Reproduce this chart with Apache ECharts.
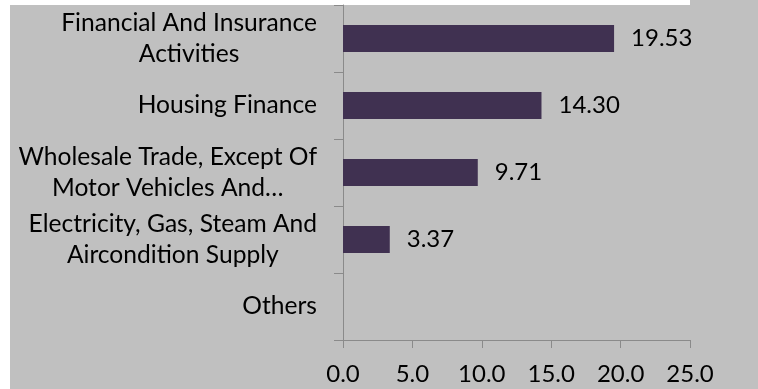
<!DOCTYPE html>
<html>
<head>
<meta charset="utf-8">
<script src="https://cdn.jsdelivr.net/npm/echarts@6/dist/echarts.min.js"></script>
<style>
  html, body { margin: 0; padding: 0; background: #ffffff; }
  #chart { width: 758px; height: 389px; }
</style>
</head>
<body>
<div id="chart"></div>
<script>
// Sector categories, top to bottom
const categories = [
  'Financial And Insurance\nActivities',
  'Housing Finance',
  'Wholesale Trade, Except Of\nMotor Vehicles And\u2026',
  'Electricity, Gas, Steam And\nAircondition Supply',
  'Others'
];
// Share per sector (Others has no bar)
const values = [19.53, 14.30, 9.71, 3.37, null];
// Value-axis range
const axisMin = 0;
const axisMax = 25;
const axisStep = 5;

const FONT = 'Lato';
const chart = echarts.init(document.getElementById('chart'));

// Each wrapped line is centred inside the label block; the block sits right-aligned.
const centredLines = s => s.split('\n').map(line => '{c|' + line + '}').join('\n');

chart.setOption({
  animation: false,
  backgroundColor: 'transparent',
  textStyle: { fontFamily: FONT },
  graphic: [
    { type: 'rect', z: -100, silent: true, shape: { x: 10, y: 5, width: 748, height: 384 }, style: { fill: '#c0c0c0' } },
    { type: 'rect', z: -100, silent: true, shape: { x: 690, y: 0, width: 68, height: 5 }, style: { fill: '#c0c0c0' } }
  ],
  grid: { left: 343, top: 5, right: 68, bottom: 49, containLabel: false },
  xAxis: {
    type: 'value',
    min: axisMin,
    max: axisMax,
    interval: axisStep,
    splitLine: { show: false },
    axisLine: { show: true, lineStyle: { color: '#8a8a8a', width: 1 } },
    axisTick: { show: true, length: 8, lineStyle: { color: '#8a8a8a' } },
    axisLabel: {
      margin: 22,
      color: '#000',
      fontFamily: FONT,
      fontSize: 24,
      formatter: v => v.toFixed(1)
    }
  },
  yAxis: {
    type: 'category',
    inverse: true,
    data: categories,
    axisLine: { show: true, lineStyle: { color: '#8a8a8a', width: 1 } },
    axisTick: { show: true, length: 9, lineStyle: { color: '#8a8a8a' } },
    axisLabel: {
      margin: 26,
      color: '#000',
      fontFamily: FONT,
      fontSize: 24.6,
      lineHeight: 31,
      align: 'right',
      formatter: centredLines,
      rich: {
        c: {
          align: 'center',
          color: '#000',
          fontFamily: FONT,
          fontSize: 24.6,
          lineHeight: 31
        }
      }
    }
  },
  series: [{
    type: 'bar',
    data: values,
    barWidth: 27,
    itemStyle: { color: '#403151' },
    label: {
      show: true,
      position: 'right',
      distance: 17,
      color: '#000',
      fontFamily: FONT,
      fontSize: 24,
      formatter: p => (p.value == null ? '' : Number(p.value).toFixed(2))
    }
  }]
});
</script>
</body>
</html>
